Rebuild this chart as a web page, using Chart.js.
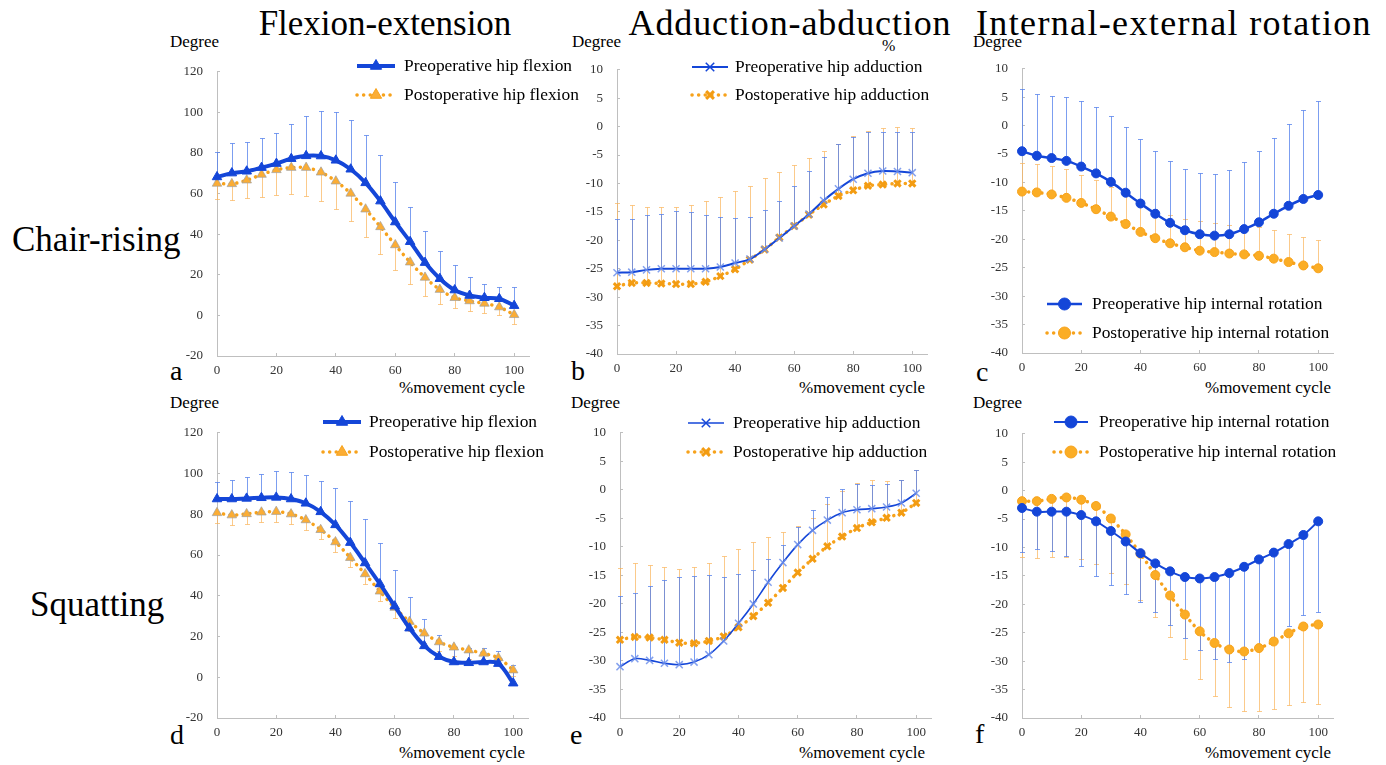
<!DOCTYPE html>
<html><head><meta charset="utf-8">
<script src="https://cdn.jsdelivr.net/npm/chart.js@4/dist/chart.umd.min.js"></script>
<style>
body{margin:0;background:#fff;width:1386px;height:765px;position:relative;overflow:hidden;font-family:'Liberation Serif','Times New Roman',serif;}
.t{position:absolute;white-space:nowrap;line-height:1;color:#000;}
canvas{position:absolute;}
</style></head><body>
<div class="t" style="left:185px;width:400px;text-align:center;top:6px;font-size:35px;">Flexion-extension</div>
<div class="t" style="left:590px;width:400px;text-align:center;top:5px;font-size:36px;letter-spacing:0.9px;">Adduction-abduction</div>
<div class="t" style="left:974px;width:400px;text-align:center;top:5px;font-size:36px;letter-spacing:1.35px;">Internal-external rotation</div>
<div class="t" style="left:882px;top:38px;font-size:16px;">%</div>
<div class="t" style="left:12px;top:222px;font-size:35px;">Chair-rising</div>
<div class="t" style="left:30px;top:587px;font-size:35px;">Squatting</div>

<div class="t" style="left:170px;top:33px;font-size:17px;">Degree</div>
<div class="t" style="left:572px;top:33px;font-size:17px;">Degree</div>
<div class="t" style="left:973px;top:33px;font-size:17px;">Degree</div>
<div class="t" style="left:170px;top:394px;font-size:17px;">Degree</div>
<div class="t" style="left:571px;top:394px;font-size:17px;">Degree</div>
<div class="t" style="left:973px;top:394px;font-size:17px;">Degree</div>

<div class="t" style="left:325px;width:200px;text-align:right;top:379px;font-size:17px;">%movement cycle</div>
<div class="t" style="left:725px;width:200px;text-align:right;top:379px;font-size:17px;">%movement cycle</div>
<div class="t" style="left:1131px;width:200px;text-align:right;top:379px;font-size:17px;">%movement cycle</div>
<div class="t" style="left:325px;width:200px;text-align:right;top:744px;font-size:17px;">%movement cycle</div>
<div class="t" style="left:725px;width:200px;text-align:right;top:744px;font-size:17px;">%movement cycle</div>
<div class="t" style="left:1131px;width:200px;text-align:right;top:744px;font-size:17px;">%movement cycle</div>

<div class="t" style="left:170px;top:357px;font-size:28px;">a</div>
<div class="t" style="left:571px;top:357px;font-size:28px;">b</div>
<div class="t" style="left:976px;top:358px;font-size:28px;">c</div>
<div class="t" style="left:170px;top:721px;font-size:28px;">d</div>
<div class="t" style="left:570px;top:721px;font-size:28px;">e</div>
<div class="t" style="left:975px;top:720px;font-size:28px;">f</div>

<script>
// ---------- DATA ----------
const movementCycle = [0,5,10,15,20,25,30,35,40,45,50,55,60,65,70,75,80,85,90,95,100];

const flexLabels = ['Preoperative hip flexion','Postoperative hip flexion'];
const adducLabels = ['Preoperative hip adduction','Postoperative hip adduction'];
const rotLabels = ['Preoperative hip internal rotation','Postoperative hip internal rotation'];

// Chair-rising, flexion
const chairFlexPre    = [68.2,70.1,71.0,72.8,74.8,77.2,78.6,78.5,76.4,72.0,65.3,56.3,46.0,36.3,26.0,18.1,12.5,9.8,8.7,8.2,4.8];
const chairFlexPreSD  = [12.5,14.6,14.4,14.4,15.2,17.1,19.5,22.0,23.8,24.4,23.5,22.5,19.8,17.0,15.5,13.8,12.1,8.9,6.7,5.6,9.0];
const chairFlexPost   = [65.0,64.8,66.6,69.4,71.7,72.8,72.8,70.5,66.1,60.1,52.3,43.6,34.7,26.2,18.7,12.7,8.7,7.1,5.9,4.1,0.3];
const chairFlexPostSD = [7.5,8.0,8.7,11.0,12.4,13.0,14.0,14.0,13.6,13.8,13.8,13.2,12.5,10.7,9.0,7.3,5.2,4.9,4.5,3.8,4.7];

// Chair-rising, adduction
const chairAddPre    = [-25.7,-25.6,-25.2,-25.0,-25.0,-25.0,-25.0,-24.7,-24.0,-23.3,-21.6,-19.6,-17.5,-15.4,-13.0,-10.95,-9.25,-8.2,-7.8,-7.9,-8.1];
const chairAddPreSD  = [9.5,9.4,9.6,9.7,10.1,10.0,9.5,8.8,7.9,7.4,6.85,6.6,7.1,7.6,7.7,7.85,7.35,7.2,6.8,6.9,7.2];
const chairAddPost   = [-28.1,-27.5,-27.5,-27.6,-27.7,-27.7,-27.3,-26.3,-25.1,-23.4,-21.6,-19.5,-17.5,-15.5,-13.7,-12.2,-11.2,-10.4,-10.2,-10.0,-10.0];
const chairAddPostSD = [14.6,13.7,13.4,13.4,13.6,14.0,14.2,14.0,13.8,13.0,12.5,11.5,10.75,9.9,9.4,9.2,9.5,9.55,10.0,9.95,9.8];

// Chair-rising, internal rotation
const chairRotPre    = [-4.5,-5.3,-5.7,-6.2,-7.2,-8.4,-9.9,-11.8,-13.7,-15.5,-17.1,-18.4,-19.1,-19.35,-19.1,-18.2,-17.0,-15.5,-14.1,-12.9,-12.2];
const chairRotPreSD  = [11.0,10.9,11.0,11.2,11.5,11.6,11.6,11.6,11.4,11.1,10.9,10.8,10.7,10.85,11.3,11.8,12.5,13.3,14.4,15.6,16.6];
const chairRotPost   = [-11.6,-11.75,-12.1,-12.7,-13.6,-14.7,-16.0,-17.3,-18.7,-19.8,-20.7,-21.4,-22.0,-22.25,-22.5,-22.65,-22.9,-23.4,-24.0,-24.6,-25.1];
const chairRotPostSD = [5.1,5.05,5.0,5.1,5.0,5.1,5.2,5.1,5.2,5.1,5.0,4.9,5.3,5.05,5.0,4.95,5.1,5.0,5.0,5.0,4.9];

// Squatting, flexion
const squatFlexPre    = [87.5,87.5,87.8,88.1,88.3,87.5,85.4,81.2,74.8,66.1,56.1,45.8,34.9,24.1,15.4,10.1,7.5,7.1,7.5,6.7,-2.9];
const squatFlexPreSD  = [8.3,9.2,10.5,11.9,13.0,13.3,13.7,15.3,17.9,20.5,21.6,20.3,17.7,15.4,13.0,10.5,7.9,7.2,6.8,6.0,8.8];
const squatFlexPost   = [80.7,79.6,80.2,81.0,81.3,80.1,77.2,72.4,66.4,58.7,50.7,42.2,34.2,27.3,21.6,17.3,14.7,13.3,11.7,9.5,3.5];
const squatFlexPostSD = [5.1,4.8,4.9,4.6,4.9,4.8,4.8,4.7,5.0,4.5,4.7,4.6,5.0,4.8,4.6,4.3,4.4,4.3,3.9,3.3,2.9];

// Squatting, adduction
const squatAddPre    = [-31.0,-29.6,-29.9,-30.4,-30.65,-30.2,-28.9,-26.5,-23.4,-20.0,-16.2,-12.75,-9.6,-7.1,-5.3,-4.0,-3.5,-3.3,-3.0,-2.3,-0.6];
const squatAddPreSD  = [12.4,11.6,13.1,14.65,15.45,15.1,13.9,11.3,8.6,5.95,4.0,3.15,3.1,3.6,4.05,4.2,4.45,4.2,3.95,4.1,4.1];
const squatAddPost   = [-26.3,-25.8,-25.9,-26.3,-26.8,-26.9,-26.5,-25.7,-24.1,-22.15,-19.8,-17.2,-14.5,-12.1,-9.9,-8.2,-6.7,-5.7,-4.9,-4.0,-2.3];
const squatAddPostSD = [12.65,12.9,12.7,12.7,12.9,13.4,13.7,14.15,13.7,12.95,11.6,9.8,8.2,7.2,7.5,8.0,7.95,7.4,6.5,5.8,5.7];

// Squatting, internal rotation
const squatRotPre    = [-3.05,-3.7,-3.7,-3.7,-4.3,-5.4,-7.1,-8.95,-11.0,-12.8,-14.2,-15.2,-15.45,-15.2,-14.5,-13.4,-12.1,-10.9,-9.4,-7.8,-5.4];
const squatRotPreSD  = [7.8,6.6,6.9,7.85,8.95,9.65,9.55,9.25,8.6,8.5,9.5,10.7,12.65,14.5,15.7,16.2,15.8,15.3,14.4,14.1,15.9];
const squatRotPost   = [-1.85,-1.85,-1.45,-1.2,-1.6,-2.7,-4.9,-7.7,-11.1,-14.85,-18.45,-21.8,-24.75,-26.8,-27.95,-28.3,-27.7,-26.55,-25.1,-23.9,-23.55];
const squatRotPostSD = [9.8,10.0,10.2,10.45,10.35,10.25,9.6,8.8,8.1,7.4,7.35,7.8,8.45,9.3,10.15,10.55,11.15,11.85,12.6,13.25,14.05];

// ---------- STYLE ----------
const BLUE = '#1446d8';
const ORANGE = '#f7a21b';
const BLUE_ERR = 'rgba(80,125,235,0.75)';
const ORANGE_ERR = 'rgba(250,180,90,0.7)';
const AXIS = '#bfbfbf';

Chart.defaults.font.family = "'Liberation Serif','Times New Roman',serif";
Chart.defaults.font.size = 13;
Chart.defaults.color = '#333';

const errorBarPlugin = {
  id: 'errorBars',
  beforeDatasetsDraw(chart) {
    const ctx = chart.ctx, xs = chart.scales.x, ys = chart.scales.y;
    const order = chart.data.datasets.map((d,i)=>i).reverse();
    order.forEach(i => {
      const ds = chart.data.datasets[i];
      if (!ds.sd) return;
      ctx.save();
      ctx.strokeStyle = ds.errColor;
      ctx.lineWidth = 1;
      ds.data.forEach((p, j) => {
        const px = Math.round(xs.getPixelForValue(p.x)) + 0.5;
        const y0 = ys.getPixelForValue(p.y);
        const y1 = Math.round(ys.getPixelForValue(p.y + ds.errDir * ds.sd[j])) + 0.5;
        ctx.beginPath();
        ctx.moveTo(px, y0); ctx.lineTo(px, y1);
        ctx.moveTo(px - 2.5, y1); ctx.lineTo(px + 2.5, y1);
        ctx.stroke();
      });
      ctx.restore();
    });
  }
};

const legendPlugin = {
  id: 'customLegend',
  afterDatasetsDraw(chart) {
    const o = chart.options.plugins.customLegend;
    if (!o) return;
    const ctx = chart.ctx;
    chart.data.datasets.forEach((ds, i) => {
      const y = o.rows[i];
      ctx.save();
      ctx.strokeStyle = ds.borderColor;
      ctx.lineWidth = ds.borderWidth;
      ctx.setLineDash(ds.borderDash || []);
      ctx.lineCap = ds.borderCapStyle || 'butt';
      ctx.beginPath(); ctx.moveTo(o.x0, y); ctx.lineTo(o.x1, y); ctx.stroke();
      ctx.setLineDash([]);
      ctx.lineCap = 'butt';
      ctx.fillStyle = ds.legendPointBg || ds.pointBackgroundColor;
      ctx.strokeStyle = ds.legendPointBorder || ds.pointBorderColor;
      ctx.lineWidth = ds.legendPointBorderWidth || ds.pointBorderWidth;
      const cx = (o.x0 + o.x1) / 2;
      const r = ds.legendRadius || ds.pointRadius;
      if (Chart.helpers && Chart.helpers.drawPoint) {
        Chart.helpers.drawPoint(ctx, {pointStyle: ds.pointStyle, radius: r, borderWidth: ctx.lineWidth, rotation: 0}, cx, y);
      } else {
        ctx.beginPath(); ctx.arc(cx, y, r, 0, Math.PI*2); ctx.fill(); ctx.stroke();
      }
      ctx.fillStyle = '#000';
      ctx.font = o.font;
      ctx.textBaseline = 'middle';
      ctx.textAlign = 'left';
      ctx.fillText(ds.label, o.tx, y);
      ctx.restore();
    });
  }
};

function pts(arr) { return arr.map((v, i) => ({x: movementCycle[i], y: v})); }

const markerSets = {
  triangle: {
    pre: {pointStyle:'triangle', pointRadius:5.5, pointBackgroundColor:BLUE, pointBorderColor:BLUE, pointBorderWidth:1, legendRadius:6.5},
    post:{pointStyle:'triangle', pointRadius:5.5, pointBackgroundColor:'#fbad35', pointBorderColor:'rgba(160,160,160,0.7)', pointBorderWidth:1, legendRadius:6.5, legendPointBorder:'#f7a21b'}
  },
  cross: {
    pre: {pointStyle:'crossRot', pointRadius:5, pointBackgroundColor:'rgba(0,0,0,0)', pointBorderColor:'rgba(110,145,235,0.85)', pointBorderWidth:1.5, legendRadius:6, legendPointBorder:BLUE},
    post:{pointStyle:'crossRot', pointRadius:4.5, pointBackgroundColor:'rgba(0,0,0,0)', pointBorderColor:'#f39c12', pointBorderWidth:3, legendRadius:5.5}
  },
  circle: {
    pre: {pointStyle:'circle', pointRadius:4.5, pointBackgroundColor:BLUE, pointBorderColor:BLUE, pointBorderWidth:1, legendRadius:6},
    post:{pointStyle:'circle', pointRadius:4.5, pointBackgroundColor:'#fbad25', pointBorderColor:'#f7a21b', pointBorderWidth:1, legendRadius:6}
  }
};

const panels = [
  {L:217,T:62,R:529,B:356, yMin:-20,yMax:120,yStep:20, labels:flexLabels, marker:'triangle', preW:4,
   pre:chairFlexPre, preSD:chairFlexPreSD, post:chairFlexPost, postSD:chairFlexPostSD, preDir:1, postDir:-1,
   leg:{x0:357,x1:395,tx:404,y1:66,y2:95}},
  {L:617,T:60,R:927,B:354, yMin:-40,yMax:10,yStep:5, labels:adducLabels, marker:'cross', preW:2,
   pre:chairAddPre, preSD:chairAddPreSD, post:chairAddPost, postSD:chairAddPostSD, preDir:1, postDir:1,
   leg:{x0:692,x1:728,tx:735,y1:67,y2:95}},
  {L:1022,T:59,R:1333,B:353, yMin:-40,yMax:10,yStep:5, labels:rotLabels, marker:'circle', preW:2.5,
   pre:chairRotPre, preSD:chairRotPreSD, post:chairRotPost, postSD:chairRotPostSD, preDir:1, postDir:1,
   leg:{x0:1047,x1:1082,tx:1092,y1:304,y2:333}},
  {L:217,T:423,R:528,B:718, yMin:-20,yMax:120,yStep:20, labels:flexLabels, marker:'triangle', preW:4,
   pre:squatFlexPre, preSD:squatFlexPreSD, post:squatFlexPost, postSD:squatFlexPostSD, preDir:1, postDir:-1,
   leg:{x0:323,x1:361,tx:369,y1:422,y2:452}},
  {L:620,T:423,R:931,B:718, yMin:-40,yMax:10,yStep:5, labels:adducLabels, marker:'cross', preW:1.6,
   pre:squatAddPre, preSD:squatAddPreSD, post:squatAddPost, postSD:squatAddPostSD, preDir:1, postDir:1,
   leg:{x0:688,x1:724,tx:733,y1:423,y2:452}},
  {L:1022,T:424,R:1333,B:718, yMin:-40,yMax:10,yStep:5, labels:rotLabels, marker:'circle', preW:2,
   pre:squatRotPre, preSD:squatRotPreSD, post:squatRotPost, postSD:squatRotPostSD, preDir:-1, postDir:-1,
   leg:{x0:1054,x1:1088,tx:1099,y1:422,y2:452}}
];

function makeChart(p) {
  const pad = {l:70, t:15, r:50, b:40};
  const w = p.R - p.L + pad.l + pad.r, h = p.B - p.T + pad.t + pad.b;
  const left = p.L - pad.l, top = p.T - pad.t;
  const cv = document.createElement('canvas');
  cv.width = w; cv.height = h;
  cv.style.left = left + 'px'; cv.style.top = top + 'px';
  cv.style.width = w + 'px'; cv.style.height = h + 'px';
  document.body.appendChild(cv);
  const m = markerSets[p.marker];
  const preDs = Object.assign({
    label: p.labels[0], data: pts(p.pre), sd: p.preSD, errDir: p.preDir, errColor: BLUE_ERR,
    borderColor: BLUE, borderWidth: p.preW, tension: 0.35, clip: false, fill: false
  }, m.pre);
  const postDs = Object.assign({
    label: p.labels[1], data: pts(p.post), sd: p.postSD, errDir: p.postDir, errColor: ORANGE_ERR,
    borderColor: ORANGE, borderWidth: 3.5, borderDash: [0.1, 6.5], borderCapStyle: 'round',
    tension: 0.35, clip: false, fill: false
  }, m.post);
  new Chart(cv, {
    type: 'line',
    data: {datasets: [preDs, postDs]},
    options: {
      responsive: false, animation: false, devicePixelRatio: 1,
      layout: {padding: {left: 0, top: pad.t, right: pad.r, bottom: 0}},
      scales: {
        x: {type: 'linear', min: 0, max: 105,
            afterFit(s) { s.height = pad.b; },
            ticks: {stepSize: 20, includeBounds: false, padding: 10, color: '#333', maxRotation: 0},
            grid: {drawOnChartArea: false, tickLength: -3, color: AXIS},
            border: {color: AXIS}},
        y: {min: p.yMin, max: p.yMax,
            afterFit(s) { s.width = pad.l; },
            ticks: {stepSize: p.yStep, padding: 17, color: '#333'},
            grid: {drawOnChartArea: false, tickLength: -3, color: AXIS},
            border: {color: AXIS}}
      },
      plugins: {
        legend: {display: false}, tooltip: {enabled: false},
        customLegend: {x0: p.leg.x0 - left, x1: p.leg.x1 - left, tx: p.leg.tx - left,
                       rows: [p.leg.y1 - top, p.leg.y2 - top], font: "17.4px 'Liberation Serif'"}
      }
    },
    plugins: [errorBarPlugin, legendPlugin]
  });
}
panels.forEach(makeChart);
</script>
</body></html>
